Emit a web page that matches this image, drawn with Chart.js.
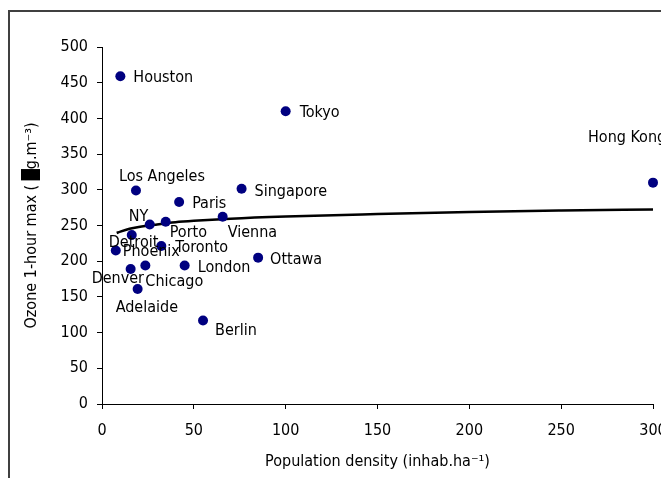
<!DOCTYPE html>
<html>
<head>
<meta charset="utf-8">
<script src="https://cdn.jsdelivr.net/npm/chart.js@4"></script>
<style>
  html, body { margin: 0; padding: 0; background: #fff; overflow: hidden; }
  canvas { display: block; }
</style>
</head>
<body>
<canvas id="c" width="661" height="478"></canvas>
<script>
// ---- data ----
const cities  = ["Houston","Tokyo","Hong Kong","Los Angeles","Paris","Singapore","NY","Porto","Vienna","Detroit","Phoenix","Toronto","London","Ottawa","Denver","Chicago","Adelaide","Berlin"];
const density = [10, 100, 300, 18.5, 42, 76, 26, 34.7, 65.7, 16.2, 7.5, 32.3, 45, 85, 15.6, 23.6, 19.4, 55];
const ozone   = [459, 410, 310, 299, 283, 301.5, 251.5, 255.3, 262.3, 236.7, 215, 221.3, 194, 205, 189, 194, 161, 117];

// trend curve
const trendX = [8, 10, 15, 20, 30, 40, 50, 70, 100, 150, 200, 250, 300];
const trendY = [239.5, 241.5, 245.5, 248, 251.5, 254.5, 256.5, 259.5, 262.5, 266, 269, 271, 272.5];

const xTicks = [0, 50, 100, 150, 200, 250, 300];
const yTicks = [0, 50, 100, 150, 200, 250, 300, 350, 400, 450, 500];

// label placement (pixel offsets from the point: text start x, middle y)
const labelOffsets = {
  "Houston": [13, 1], "Tokyo": [14, 1], "Hong Kong": [-65, -46], "Los Angeles": [-17, -15],
  "Paris": [13, 1], "Singapore": [13, 2], "NY": [-21, -9], "Porto": [4, 10], "Vienna": [5, 15],
  "Detroit": [-23, 7], "Phoenix": [7, 0], "Toronto": [14, 1], "London": [13, 1], "Ottawa": [12, 1],
  "Denver": [-39, 9], "Chicago": [0, 15], "Adelaide": [-22, 18], "Berlin": [12, 9]
};

const FONT = { family: "'DejaVu Sans Condensed', 'Liberation Sans', Arial, sans-serif", size: 16 };

const framePlugin = {
  id: 'frame',
  beforeDraw(chart) {
    const c = chart.ctx;
    c.save();
    c.fillStyle = '#fff';
    c.fillRect(0, 0, chart.width, chart.height);
    c.strokeStyle = '#404040';
    c.lineWidth = 2;
    c.strokeRect(9, 11, 800, 600);
    c.restore();
  }
};

const labelPlugin = {
  id: 'cityLabels',
  afterDatasetsDraw(chart) {
    const meta = chart.getDatasetMeta(0);
    const c = chart.ctx;
    c.save();
    c.font = FONT.size + "px " + FONT.family;
    c.fillStyle = '#000';
    c.textAlign = 'left';
    c.textBaseline = 'middle';
    meta.data.forEach((pt, i) => {
      const off = labelOffsets[cities[i]] || [10, 0];
      c.fillText(cities[i], pt.x + off[0], pt.y + off[1] + 1);
    });
    c.restore();
  }
};

new Chart(document.getElementById('c'), {
  type: 'scatter',
  data: {
    datasets: [
      {
        data: cities.map((c, i) => ({ x: density[i], y: ozone[i] })),
        backgroundColor: '#000080',
        borderColor: '#000080',
        pointRadius: 5,
        pointHoverRadius: 5,
        borderWidth: 0,
        clip: false,
        order: 0
      },
      {
        type: 'line',
        data: trendX.map((x, i) => ({ x: x, y: trendY[i] })),
        borderColor: '#000',
        borderWidth: 2.5,
        pointRadius: 0,
        fill: false,
        showLine: true,
        cubicInterpolationMode: 'monotone',
        order: 1
      }
    ]
  },
  options: {
    responsive: false,
    animation: false,
    events: [],
    layout: { padding: { left: 0, right: 8, top: 47, bottom: 0 } },
    plugins: { legend: { display: false }, tooltip: { enabled: false } },
    scales: {
      x: {
        type: 'linear', min: 0, max: 300,
        afterBuildTicks(s) { s.ticks = xTicks.map(v => ({ value: v })); },
        ticks: { font: FONT, color: '#000', padding: 12, maxRotation: 0, autoSkip: false },
        grid: { display: true, drawOnChartArea: false, tickLength: 5, color: '#000' },
        border: { color: '#000', width: 1 },
        title: { display: true, text: 'Population density (inhab.ha\u207B\u00B9)', font: FONT, color: '#000', padding: { top: 0, bottom: 7 } },
        afterFit(s) { s.height = 74; s.paddingRight = 0; s.paddingLeft = 0; }
      },
      y: {
        type: 'linear', min: 0, max: 500,
        afterBuildTicks(s) { s.ticks = yTicks.map(v => ({ value: v })); },
        ticks: { font: FONT, color: '#000', padding: 9, autoSkip: false },
        grid: { display: true, drawOnChartArea: false, tickLength: 5, color: '#000' },
        border: { color: '#000', width: 1 },
        title: { display: true, text: 'Ozone 1-hour max ( \u2588g.m\u207B\u00B3)', font: FONT, color: '#000', padding: { top: 22, bottom: 0 } },
        afterFit(s) { s.width = 102; s.paddingTop = 0; s.paddingBottom = 0; }
      }
    }
  },
  plugins: [framePlugin, labelPlugin]
});
</script>
</body>
</html>
